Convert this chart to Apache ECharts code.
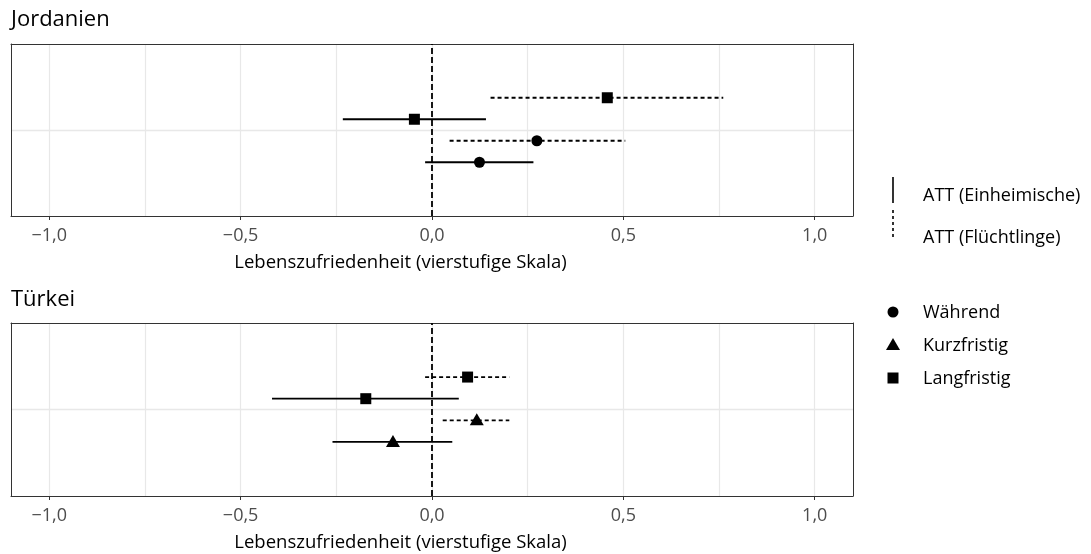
<!DOCTYPE html>
<html>
<head>
<meta charset="utf-8">
<script src="https://cdn.jsdelivr.net/npm/echarts@6/dist/echarts.min.js"></script>
<style>
  html, body { margin: 0; padding: 0; background: #fff; }
  #main { width: 1091px; height: 554px; }
</style>
</head>
<body>
<div id="main"></div>
<script>
// Jordanien
const jorGroup = ["Einheimische", "Flüchtlinge", "Einheimische", "Flüchtlinge"];
const jorTiming = ["Während", "Während", "Langfristig", "Langfristig"];
const jorEst = [0.124, 0.274, -0.046, 0.458];
const jorLow = [-0.018, 0.046, -0.233, 0.153];
const jorHigh = [0.265, 0.505, 0.141, 0.761];

// Türkei
const turGroup = ["Einheimische", "Flüchtlinge", "Einheimische", "Flüchtlinge"];
const turTiming = ["Kurzfristig", "Kurzfristig", "Langfristig", "Langfristig"];
const turEst = [-0.102, 0.117, -0.173, 0.093];
const turLow = [-0.260, 0.028, -0.418, -0.018];
const turHigh = [0.053, 0.202, 0.070, 0.202];

const panelTitles = ["Jordanien", "Türkei"];
const axisTitle = "Lebenszufriedenheit (vierstufige Skala)";
const labelTicks = [-1, -0.5, 0, 0.5, 1];
const gridTicks = [-1, -0.75, -0.5, -0.25, 0, 0.25, 0.5, 0.75, 1];
const lineLegend = ["ATT (Einheimische)", "ATT (Flüchtlinge)"];
const shapeLegend = ["Während", "Kurzfristig", "Langfristig"];

const FONT = "Open Sans";

function fmt(v) {
  return (v < 0 ? "\u2212" : "") + Math.abs(v).toFixed(1).replace(".", ",");
}

function markShape(timing, x, y) {
  if (timing === "Während") {
    return { type: "circle", shape: { cx: x, cy: y, r: 5.5 }, style: { fill: "#000" } };
  }
  if (timing === "Kurzfristig") {
    return {
      type: "polygon",
      shape: { points: [[x, y - 7], [x + 7, y + 5], [x - 7, y + 5]] },
      style: { fill: "#000" }
    };
  }
  return { type: "rect", shape: { x: x - 5.5, y: y - 5.5, width: 11, height: 11 }, style: { fill: "#000" } };
}

function makeRender(group, timing) {
  return function (params, api) {
    let i = params.dataIndex;
    let pos = api.value(3);
    let a = api.coord([api.value(1), pos]);
    let b = api.coord([api.value(2), pos]);
    let c = api.coord([api.value(0), pos]);
    let dashed = group[i] === "Flüchtlinge";
    return {
      type: "group",
      children: [
        {
          type: "line",
          shape: { x1: a[0], y1: a[1], x2: b[0], y2: b[1] },
          style: { stroke: "#000", lineWidth: 1.8, lineDash: dashed ? [4, 3] : [] }
        },
        markShape(timing[i], c[0], c[1])
      ]
    };
  };
}

function panelData(est, low, high) {
  // dodge the four estimates around the single y position
  return est.map((v, i) => [v, low[i], high[i], (i - 1.5) * 0.5]);
}

const grids = [
  { left: 11, right: 238, top: 44, height: 172 },
  { left: 11, right: 238, top: 323, height: 173 }
];

let xAxes = [];
let yAxes = [];
let series = [];
let titles = [];

grids.forEach((g, p) => {
  xAxes.push({
    gridIndex: p, type: "value", position: "bottom", min: -1.1, max: 1.1,
    axisLine: { show: true, onZero: false, lineStyle: { color: "#333", width: 1 } },
    axisTick: { show: true, customValues: labelTicks, length: 4, lineStyle: { color: "#333" } },
    axisLabel: { customValues: labelTicks, formatter: fmt, color: "#4d4d4d", fontSize: 18, fontFamily: FONT, margin: 11 },
    splitLine: { show: false },
    name: axisTitle, nameLocation: "middle", nameGap: 37,
    nameTextStyle: { fontSize: 18.5, fontFamily: FONT, color: "#000", padding: [0, 63, 0, 0] }
  });
  xAxes.push({
    gridIndex: p, type: "value", position: "top", min: -1.1, max: 1.1,
    axisLine: { show: true, onZero: false, lineStyle: { color: "#333", width: 1 } },
    axisTick: { show: false, customValues: gridTicks },
    axisLabel: { show: false },
    splitLine: { show: true, lineStyle: { color: "#e8e8e8", width: 1.2 } }
  });
  yAxes.push({
    gridIndex: p, type: "value", position: "left", min: -2, max: 2,
    axisLine: { show: true, onZero: false, lineStyle: { color: "#333", width: 1 } },
    axisTick: { show: false, customValues: [0] },
    axisLabel: { show: false },
    splitLine: { show: true, lineStyle: { color: "#e8e8e8", width: 1.4 } }
  });
  yAxes.push({
    gridIndex: p, type: "value", position: "right", min: -2, max: 2,
    axisLine: { show: true, onZero: false, lineStyle: { color: "#333", width: 1 } },
    axisTick: { show: false },
    axisLabel: { show: false },
    splitLine: { show: false }
  });
  titles.push({
    text: panelTitles[p], left: 11, top: p === 0 ? 9 : 289, padding: 0,
    textStyle: { fontFamily: FONT, fontSize: 22, fontWeight: "normal", color: "#000" }
  });
  // zero reference line
  series.push({
    type: "line", xAxisIndex: p * 2, yAxisIndex: p * 2, data: [], silent: true,
    markLine: {
      silent: true, symbol: "none", label: { show: false },
      lineStyle: { color: "#000", type: [6, 3], width: 1.8 },
      data: [{ xAxis: 0 }]
    }
  });
});

series.push({
  type: "custom", name: "Jordanien", xAxisIndex: 0, yAxisIndex: 0,
  renderItem: makeRender(jorGroup, jorTiming),
  encode: { x: [0, 1, 2], y: 3 },
  data: panelData(jorEst, jorLow, jorHigh),
  z: 5
});
series.push({
  type: "custom", name: "Türkei", xAxisIndex: 2, yAxisIndex: 2,
  renderItem: makeRender(turGroup, turTiming),
  encode: { x: [0, 1, 2], y: 3 },
  data: panelData(turEst, turLow, turHigh),
  z: 5
});

// legend keys
let legendItems = [];
const lineKeyY = [[177, 203], [210, 237]];
const lineTextY = [196, 238];
lineLegend.forEach((t, i) => {
  legendItems.push({
    type: "line", shape: { x1: 893, y1: lineKeyY[i][0], x2: 893, y2: lineKeyY[i][1] },
    style: { stroke: "#000", lineWidth: 1.6, lineDash: i === 1 ? [3, 3] : [] }
  });
  legendItems.push({
    type: "text", x: 923, y: lineTextY[i],
    style: { text: t, fontFamily: FONT, fontSize: 18, fill: "#000", verticalAlign: "middle" }
  });
});
const shapeY = [312, 345, 378];
shapeLegend.forEach((t, i) => {
  legendItems.push(markShape(t, 893, shapeY[i]));
  legendItems.push({
    type: "text", x: 923, y: shapeY[i] + 1,
    style: { text: t, fontFamily: FONT, fontSize: 18, fill: "#000", verticalAlign: "middle" }
  });
});

let myChart = echarts.init(document.getElementById("main"), null, { renderer: "canvas" });
myChart.setOption({
  animation: false,
  backgroundColor: "#fff",
  title: titles,
  grid: grids,
  xAxis: xAxes,
  yAxis: yAxes,
  series: series,
  graphic: legendItems
});
</script>
</body>
</html>
